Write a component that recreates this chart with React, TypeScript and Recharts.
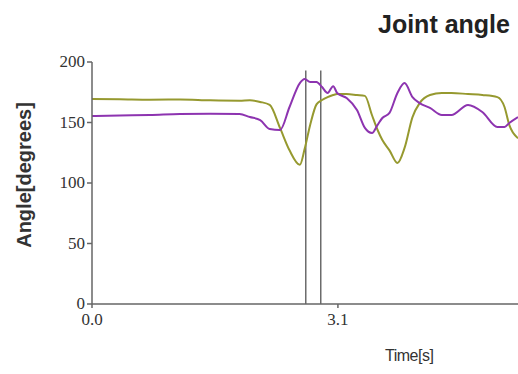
import React from "react";
import { LineChart, Line, XAxis, YAxis, ReferenceLine } from "recharts";

const times = [0.0, 0.35, 0.73, 1.11, 1.49, 1.86, 1.99, 2.12, 2.24, 2.37, 2.49, 2.62, 2.68, 2.75, 2.83, 2.9, 2.97, 3.04, 3.09, 3.21, 3.34, 3.44, 3.53, 3.6, 3.66, 3.75, 3.85, 3.94, 4.04, 4.13, 4.26, 4.41, 4.53, 4.74, 4.92, 5.11, 5.2, 5.26, 5.37];
const oliveAngle = [169.4, 169.2, 168.8, 169.0, 168.3, 168.0, 168.3, 167.0, 164.5, 145.5, 127.0, 115.0, 128.0, 148.0, 165.0, 168.6, 171.0, 172.7, 173.5, 173.5, 172.7, 172.0, 156.0, 143.8, 135.5, 127.0, 116.5, 129.0, 154.5, 166.0, 172.7, 174.4, 174.4, 173.5, 172.7, 171.0, 162.8, 148.0, 137.0];
const purpleAngle = [155.4, 155.8, 156.2, 157.0, 157.2, 157.0, 154.5, 152.0, 144.6, 143.8, 162.8, 182.6, 186.0, 183.5, 183.5, 179.3, 174.4, 180.0, 174.4, 170.2, 160.3, 145.5, 141.3, 148.0, 153.7, 157.9, 174.4, 182.6, 171.0, 166.0, 162.0, 156.2, 156.2, 164.5, 158.7, 146.3, 146.3, 149.6, 154.5];
const yTicks = [0, 50, 100, 150, 200];
const xTicks = [0, 3.1];
const markerTimes = [2.695, 2.884];
const markerTop = 193;

const data = times.map((t, i) => ({ t, olive: oliveAngle[i], purple: purpleAngle[i] }));

const axisColor = "#666";
const serifStyle = { fontFamily: "Liberation Serif, serif", fontSize: 17 };

const YTick = (props: any) => {
  const { x, y, payload } = props;
  return (
    <text x={x} y={y} dy={5} textAnchor="end" style={serifStyle} fill="#333">
      {payload.value}
    </text>
  );
};

const XTick = (props: any) => {
  const { x, y, payload } = props;
  return (
    <text x={x} y={y} dy={13} textAnchor="middle" style={serifStyle} fill="#333">
      {Number(payload.value).toFixed(1)}
    </text>
  );
};

export default function App() {
  return (
    <div style={{ position: "absolute", left: 0, top: 0, width: 518, height: 374, background: "#fff", overflow: "hidden" }}>
      <LineChart width={518} height={374} data={data} margin={{ top: 62, right: 0, bottom: 20, left: 0 }}>
        <XAxis
          dataKey="t"
          type="number"
          domain={[0, 5.37]}
          ticks={xTicks}
          height={50}
          stroke={axisColor}
          strokeWidth={1.5}
          tickSize={4}
          tickMargin={4}
          tick={<XTick />}
          allowDataOverflow
        />
        <YAxis
          domain={[0, 200]}
          ticks={yTicks}
          width={92}
          stroke={axisColor}
          strokeWidth={1.5}
          tickSize={5}
          tickMargin={2}
          tick={<YTick />}
        />
        {markerTimes.map((m) => (
          <ReferenceLine
            key={m}
            segment={[{ x: m, y: 0 }, { x: m, y: markerTop }]}
            stroke="#555"
            strokeWidth={1.3}
          />
        ))}
        <Line type="monotone" dataKey="olive" stroke="#96992f" strokeWidth={2} dot={false} isAnimationActive={false} />
        <Line type="monotone" dataKey="purple" stroke="#8d34b0" strokeWidth={2} dot={false} isAnimationActive={false} />
      </LineChart>
      <div style={{ position: "absolute", left: 378, top: 10, fontFamily: "'Liberation Sans', Arial, sans-serif", fontWeight: "bold", fontSize: 25, color: "#222", whiteSpace: "nowrap" }}>
        Joint angle
      </div>
      <div style={{ position: "absolute", left: 24, top: 175, transform: "translate(-50%, -50%) rotate(-90deg)", fontFamily: "'Liberation Sans', Arial, sans-serif", fontWeight: "bold", fontSize: 20, color: "#333", whiteSpace: "nowrap" }}>
        Angle[degrees]
      </div>
      <div style={{ position: "absolute", left: 385, top: 347, fontFamily: "'Liberation Sans', Arial, sans-serif", fontSize: 16, color: "#333", whiteSpace: "nowrap", letterSpacing: -0.5 }}>
        Time[s]
      </div>
    </div>
  );
}
